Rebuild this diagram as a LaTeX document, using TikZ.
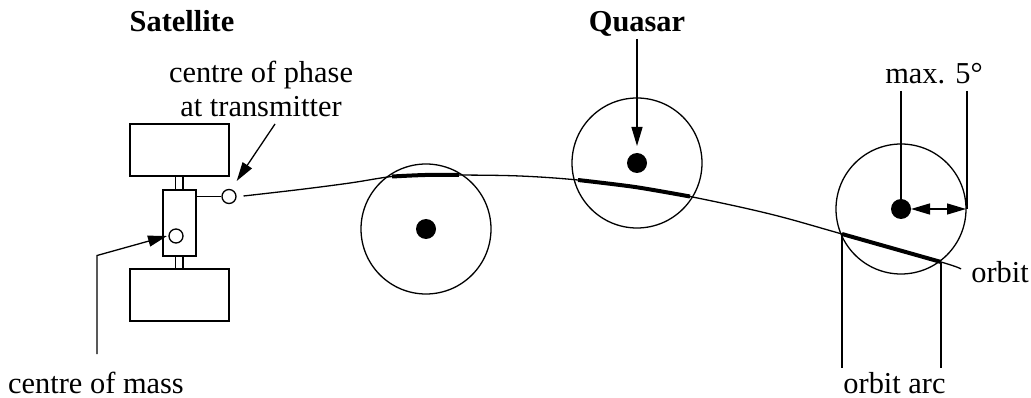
\documentclass[tikz,border=0pt]{standalone}
\usepackage{fontspec}
\setmainfont{Liberation Serif}
\usetikzlibrary{arrows.meta}
\tikzset{
 x=1pt,y=-1pt,
 lbl/.style={inner sep=0pt,font=\fontsize{30.4}{36}\selectfont,align=center},
 ln/.style={line width=1.3pt,line join=miter},
 box/.style={draw,line width=1.3pt,inner sep=0pt,minimum width=#1},
 ring/.style={draw,circle,line width=1.3pt,inner sep=0pt,minimum size=130pt},
 small/.style={draw,circle,line width=1.3pt,inner sep=0pt,minimum size=14pt,fill=white},
 dot/.style={fill=black,circle,inner sep=0pt,minimum size=20pt},
 arr/.style={ln,-{Triangle[length=19pt,width=11pt]}},
 bold/.style={line width=4pt},
}
\begin{document}
\begin{tikzpicture}
\useasboundingbox (0,0) rectangle (1031,398);
% text
\node[lbl,anchor=base] (sat) at (182,32) {\bfseries Satellite};
\node[lbl,anchor=base] (qua) at (637,32) {\bfseries Quasar};
\node[lbl,anchor=base] (ph1) at (261,83) {centre of phase};
\node[lbl,anchor=base] (ph2) at (261,117) {at transmitter};
\node[lbl,anchor=base] (com) at (96,393) {centre of mass};
\node[lbl,anchor=base] (arc) at (894.5,393) {orbit arc};
\node[lbl,anchor=base] (orb) at (1000,282) {orbit};
\node[lbl,anchor=base] (max) at (934,84) {max. 5°};
% satellite
\node[box=99pt,minimum height=52pt] (top) at (179.5,150) {};
\node[box=99pt,minimum height=52pt] (bot) at (179.5,295) {};
\node[box=33pt,minimum height=66pt] (body) at (179.5,223) {};
\draw[ln] (175.5,176) rectangle (183,190);
\draw[ln] (175.5,256) rectangle (183,269);
\node[small] (mass) at (176,236) {};
\node[small] (phase) at (229,196.5) {};
\coordinate (bodyout) at (196,196.5);
\draw[ln] (bodyout) -- (phase);
% orbit
\coordinate (o0) at (243.5,196);
\coordinate (oe) at (961,269);
\draw[ln] plot[smooth,tension=0.6] coordinates {(o0) (300,189.5) (350,183) (392,176.5) (425,175) (459,175) (520,176) (578,180) (635,187) (690,196.5) (770,214) (842,234) (941,262) (oe)};
\draw[bold] plot[smooth] coordinates {(392,176.5) (425,175) (459,175)};
\draw[bold] plot[smooth] coordinates {(578,180) (635,187) (690,196.5)};
\coordinate (a1) at (842,234);
\coordinate (a2) at (941,262);
\draw[bold] (a1) -- (a2);
% circles
\node[ring] (c1) at (426,229) {};
\node[ring] (c2) at (637,163) {};
\node[ring] (c3) at (901,209) {};
\node[dot] (d1) at (426,229) {};
\node[dot] (d2) at (637,163) {};
\node[dot] (d3) at (901,209) {};
% arrows
\coordinate (pa) at (275,124);
\coordinate (pb) at (236.7,181);
\draw[arr] (pa) -- (pb);
\coordinate (ma) at (97,354);
\coordinate (mb) at (97,255.5);
\coordinate (mc) at (167,236);
\draw[arr] (ma) -- (mb) -- (mc);
\coordinate (qa) at (637,39);
\coordinate (qb) at (637,146);
\draw[arr] (qa) -- (qb);
\coordinate (m1) at (901,91);
\coordinate (m2) at (967,91);
\coordinate (m3) at (967,209);
\draw[ln] (m1) -- (d3);
\draw[ln] (m2) -- (m3);
\coordinate (da) at (911,209);
\coordinate (dm) at (938,209);
\draw[arr] (dm) -- (da);
\draw[arr] (dm) -- (966,209);
\coordinate (l1) at (842,368);
\coordinate (l2) at (941,368);
\draw[ln] (a1) -- (l1);
\draw[ln] (a2) -- (l2);
\end{tikzpicture}
\end{document}
